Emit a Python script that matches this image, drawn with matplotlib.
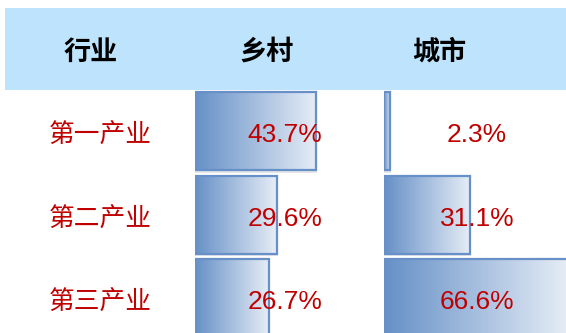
import numpy as np
import matplotlib
matplotlib.use("Agg")
import matplotlib.pyplot as plt
from matplotlib.patches import Rectangle
from matplotlib.colors import LinearSegmentedColormap

plt.rcParams['font.family'] = ['Noto Sans CJK SC', 'DejaVu Sans']

headers = ["行业", "乡村", "城市"]
industries = ["第一产业", "第二产业", "第三产业"]
rural = [43.7, 29.6, 26.7]
urban = [2.3, 31.1, 66.6]

W, H = 566, 333
fig = plt.figure(figsize=(W / 100, H / 100), dpi=100)
fig.patch.set_facecolor("white")

bg = fig.add_axes([0, 0, 1, 1])
bg.set_xlim(0, W)
bg.set_ylim(H, 0)
bg.axis("off")

# header band
bg.add_patch(Rectangle((5, 8), W - 5, 82, facecolor="#BEE3FC", edgecolor="none"))
for txt, x in zip(headers, [91, 267, 439]):
    bg.text(x, 52, txt, ha="center", va="center", fontsize=19.5,
            fontweight="bold", color="black")

row0, pitch = 131.0, 83.5
red = "#C00000"
for i, name in enumerate(industries):
    yc = row0 + pitch * i + 5
    bg.text(100, yc, name, ha="center", va="center", fontsize=18.5, color=red)

cmap = LinearSegmentedColormap.from_list("g", ["#6690C7", "#E6EDF6"])
px_per_pct = 2.77
ax_top_px = 90
ylim_top = (ax_top_px - row0) / pitch
ylim_bot = (H - row0) / pitch
bar_h = 78 / pitch

def make_col(left_px, right_px, values):
    ax = fig.add_axes([left_px / W, 0, (right_px - left_px) / W, (H - ax_top_px) / H])
    ax.axis("off")
    ax.patch.set_alpha(0)
    grad = np.linspace(0, 1, 256).reshape(1, -1)
    for i, v in enumerate(values):
        y0, y1 = i - bar_h / 2, i + bar_h / 2
        # subtle shadow
        ax.add_patch(Rectangle((0, y0 + 0.03), v + 0.4, bar_h, facecolor="#C8CCD4",
                               edgecolor="none", alpha=0.5, zorder=1))
        ax.imshow(grad, cmap=cmap, extent=(0, v, y1, y0), aspect="auto",
                  interpolation="bilinear", zorder=2)
        ax.add_patch(Rectangle((0, y0), v, bar_h, facecolor="none",
                               edgecolor="#6690C7", linewidth=1.6, zorder=3))
    ax.set_xlim(0, (right_px - left_px) / px_per_pct)
    ax.set_ylim(ylim_bot, ylim_top)
    return ax

ax_r = make_col(195, 384, rural)
ax_u = make_col(384, W, urban)

for i, (r, u) in enumerate(zip(rural, urban)):
    yc = row0 + pitch * i + 4
    for x, v in ((285, r), (477, u)):
        fig.text(x / W, 1 - yc / H, f"{v:.1f}%", ha="center", va="center",
                 fontsize=19, color=red, fontfamily=["Liberation Sans", "DejaVu Sans"],
                 zorder=10)

fig.savefig("out.png", dpi=100)
